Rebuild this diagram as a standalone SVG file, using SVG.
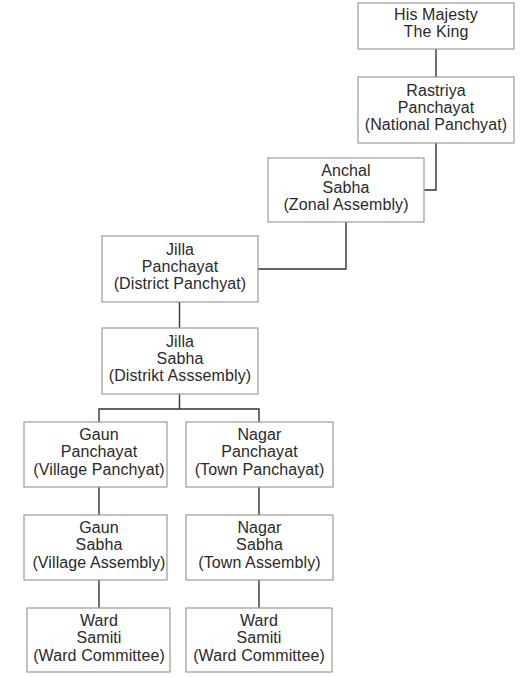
<svg xmlns="http://www.w3.org/2000/svg" width="524" height="677" viewBox="0 0 524 677">
<style>
.box{fill:#fff;stroke:#9a9a9a;stroke-width:1.2}
.t{font-family:"Liberation Sans",Arial,Helvetica,sans-serif;font-size:16px;letter-spacing:0.1px;fill:#2a2a2a;text-anchor:middle}
.c{fill:none;stroke:#333;stroke-width:1.4}
</style>
<rect width="524" height="677" fill="#fff"/>
<g id="connectors">
<path class="c" d="M436 49V77"/>
<path class="c" d="M436 143V190H424"/>
<path class="c" d="M346 222V269H258"/>
<path class="c" d="M179.5 302V328"/>
<path class="c" d="M179.5 394V409M99 422V409H259V422"/>
<path class="c" d="M99 487V515M259 487V515"/>
<path class="c" d="M99 580V608M259 580V608"/>
</g>
<g id="king"><rect class="box" x="358" y="3" width="156" height="46"/>
<text class="t" x="436" y="20">His Majesty</text><text class="t" x="436" y="37">The King</text></g>
<g id="rastriya"><rect class="box" x="358" y="77" width="156" height="66"/>
<text class="t" x="436" y="96">Rastriya</text><text class="t" x="436" y="113">Panchayat</text><text class="t" x="436" y="130">(National Panchyat)</text></g>
<g id="anchal"><rect class="box" x="268" y="158" width="156" height="64"/>
<text class="t" x="346" y="176">Anchal</text><text class="t" x="346" y="193">Sabha</text><text class="t" x="346" y="210">(Zonal Assembly)</text></g>
<g id="jilla-panchayat"><rect class="box" x="102" y="236" width="156" height="66"/>
<text class="t" x="180" y="255">Jilla</text><text class="t" x="180" y="272">Panchayat</text><text class="t" x="180" y="289">(District Panchyat)</text></g>
<g id="jilla-sabha"><rect class="box" x="102" y="328" width="156" height="66"/>
<text class="t" x="180" y="347">Jilla</text><text class="t" x="180" y="364">Sabha</text><text class="t" x="180" y="381">(Distrikt Asssembly)</text></g>
<g id="gaun-panchayat"><rect class="box" x="24" y="422" width="143" height="65"/>
<text class="t" x="99" y="440">Gaun</text><text class="t" x="99" y="457">Panchayat</text><text class="t" x="99" y="475">(Village Panchyat)</text></g>
<g id="nagar-panchayat"><rect class="box" x="186" y="422" width="147" height="65"/>
<text class="t" x="259.5" y="440">Nagar</text><text class="t" x="259.5" y="457">Panchayat</text><text class="t" x="259.5" y="475">(Town Panchayat)</text></g>
<g id="gaun-sabha"><rect class="box" x="24" y="515" width="143" height="65"/>
<text class="t" x="99" y="533">Gaun</text><text class="t" x="99" y="550">Sabha</text><text class="t" x="99" y="568">(Village Assembly)</text></g>
<g id="nagar-sabha"><rect class="box" x="186" y="515" width="147" height="65"/>
<text class="t" x="259.5" y="533">Nagar</text><text class="t" x="259.5" y="550">Sabha</text><text class="t" x="259.5" y="568">(Town Assembly)</text></g>
<g id="ward-samiti-1"><rect class="box" x="27" y="608" width="143" height="64"/>
<text class="t" x="99" y="626">Ward</text><text class="t" x="99" y="643">Samiti</text><text class="t" x="99" y="661">(Ward Committee)</text></g>
<g id="ward-samiti-2"><rect class="box" x="186" y="608" width="146" height="64"/>
<text class="t" x="259" y="626">Ward</text><text class="t" x="259" y="643">Samiti</text><text class="t" x="259" y="661">(Ward Committee)</text></g>
</svg>
